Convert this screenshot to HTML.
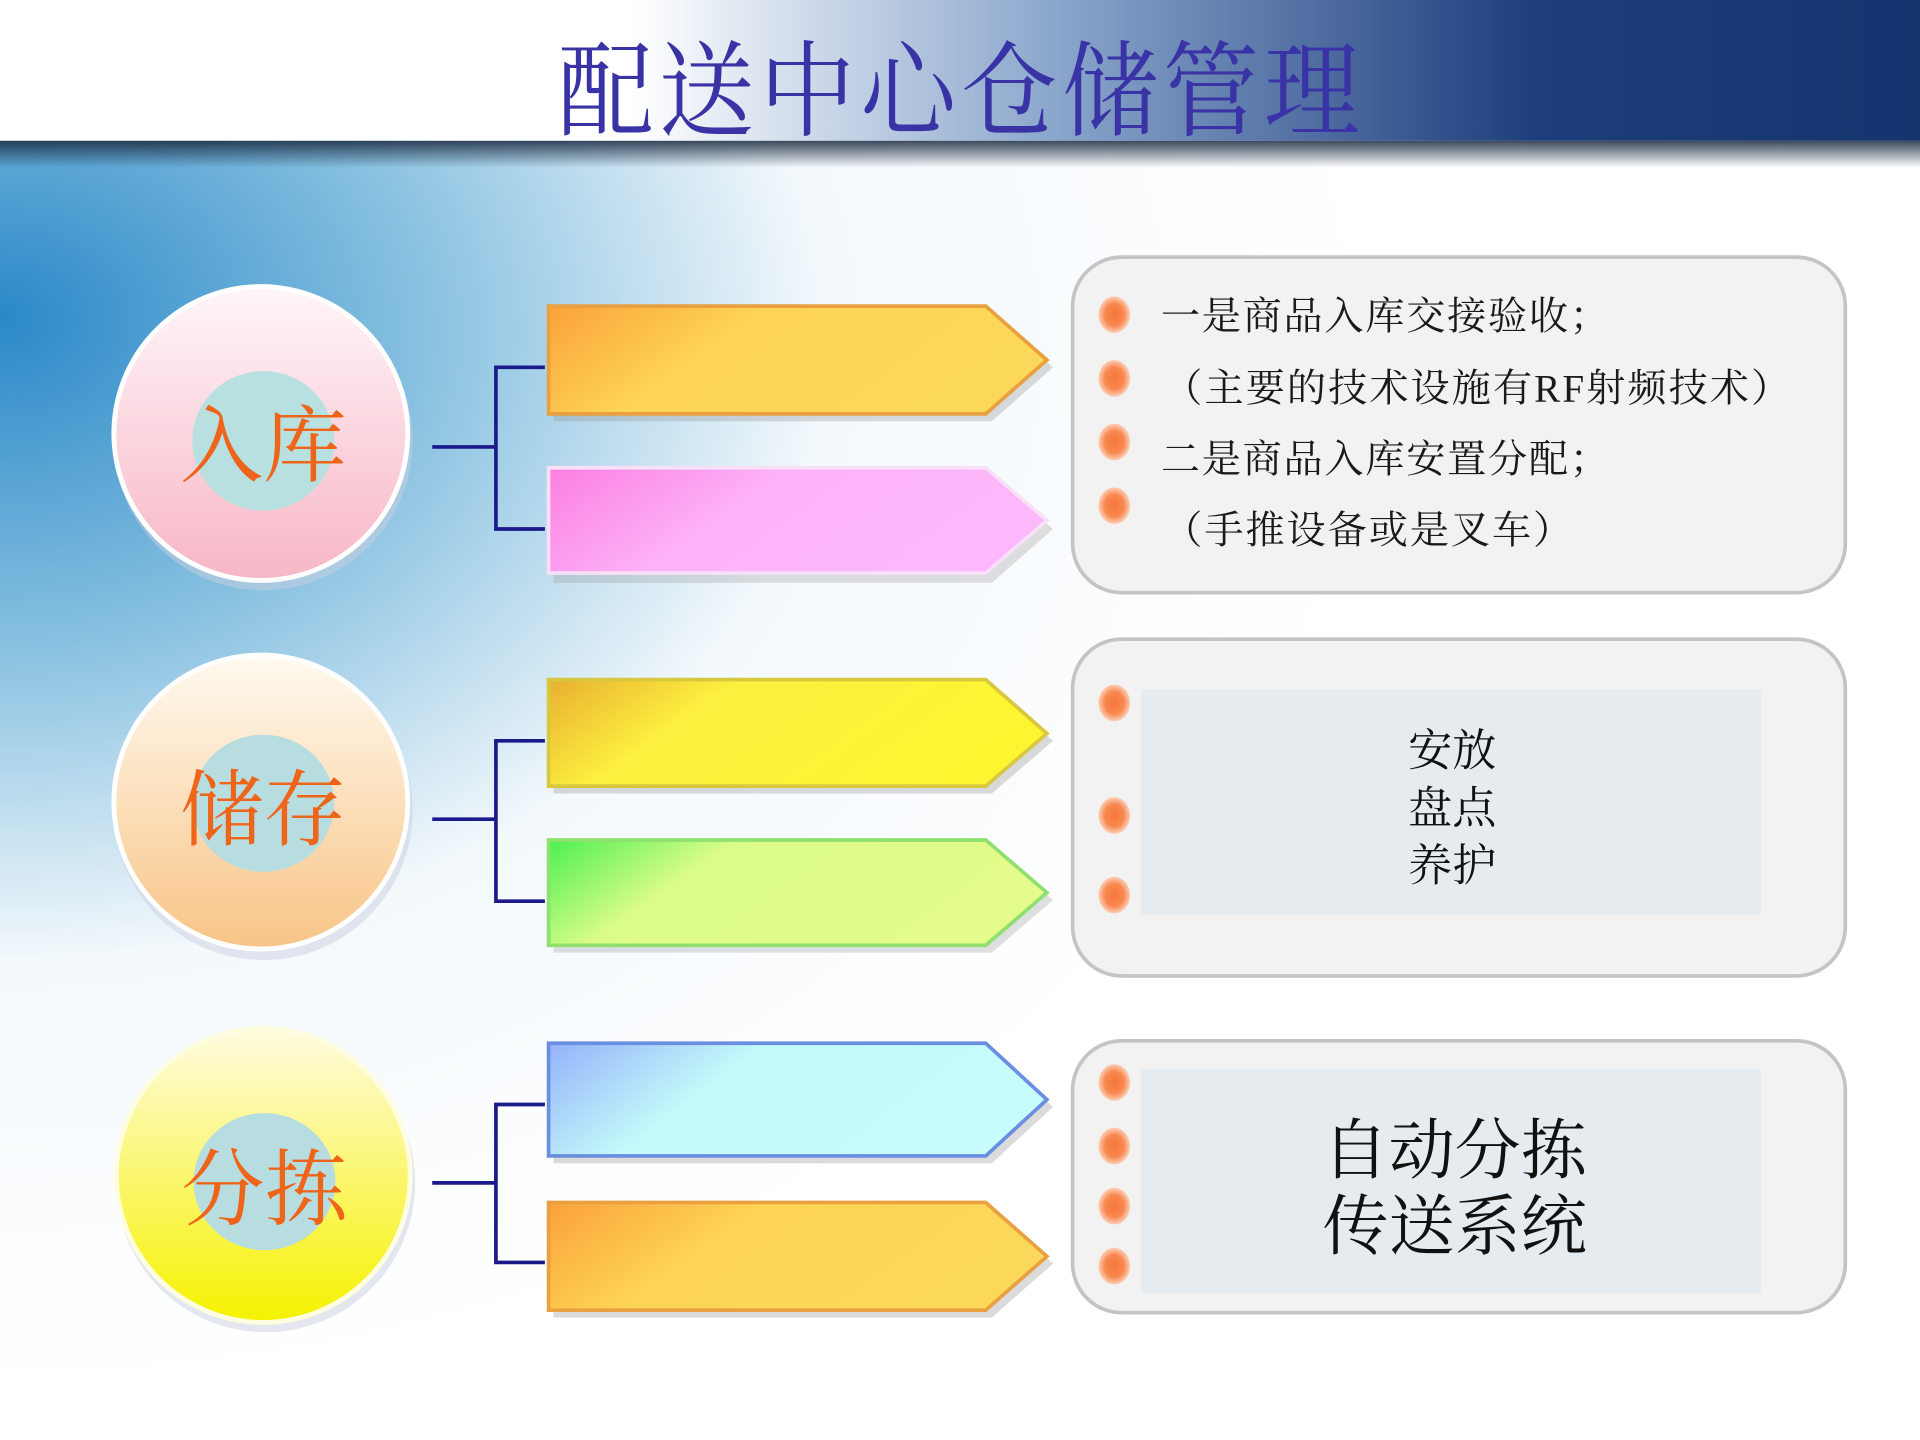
<!DOCTYPE html>
<html><head><meta charset="utf-8"><style>
html,body{margin:0;padding:0;width:1920px;height:1440px;overflow:hidden;background:#fff}
svg{display:block}
text{font-family:"Liberation Serif","Noto Serif CJK SC",serif}
</style></head><body>
<svg width="1920" height="1440" viewBox="0 0 1568 1176" xmlns="http://www.w3.org/2000/svg">
<defs>
<linearGradient id="hdr" x1="0" y1="0" x2="1" y2="0">
<stop offset="0" stop-color="#ffffff"/><stop offset="0.33" stop-color="#ffffff"/>
<stop offset="0.55" stop-color="#8aa6cc"/><stop offset="0.8" stop-color="#1d3d7c"/><stop offset="1" stop-color="#15346e"/>
</linearGradient>
<linearGradient id="shadow" x1="0" y1="0" x2="0" y2="1">
<stop offset="0" stop-color="#1a2a40"/><stop offset="1" stop-color="#1a2a40" stop-opacity="0"/>
</linearGradient>
<radialGradient id="bg" cx="0" cy="0.25" r="0.72" fx="0" fy="0.22">
<stop offset="0" stop-color="#2a88c8"/><stop offset="0.3" stop-color="#86c0e0"/><stop offset="0.6" stop-color="#f4f9fc"/><stop offset="1" stop-color="#ffffff"/>
</radialGradient>
<linearGradient id="c1" x1="0" y1="0" x2="0" y2="1"><stop offset="0" stop-color="#fff6f8"/><stop offset="1" stop-color="#f7b6c6"/></linearGradient>
<linearGradient id="c2" x1="0" y1="0" x2="0" y2="1"><stop offset="0" stop-color="#fffaf0"/><stop offset="1" stop-color="#f8c486"/></linearGradient>
<linearGradient id="c3" x1="0" y1="0" x2="0" y2="1"><stop offset="0" stop-color="#fffbe0"/><stop offset="1" stop-color="#f6f200"/></linearGradient>
<linearGradient id="a1" x1="0" y1="0" x2="1" y2="0.3"><stop offset="0" stop-color="#fba23a"/><stop offset="0.4" stop-color="#fdd455"/><stop offset="1" stop-color="#fcd85a"/></linearGradient>
<linearGradient id="a2" x1="0" y1="0" x2="1" y2="0.3"><stop offset="0" stop-color="#fb7fe0"/><stop offset="0.45" stop-color="#fdb2f8"/><stop offset="1" stop-color="#fdb8fb"/></linearGradient>
<linearGradient id="a3" x1="0" y1="0" x2="1" y2="0.3"><stop offset="0" stop-color="#e8b030"/><stop offset="0.35" stop-color="#fdf040"/><stop offset="1" stop-color="#fdf530"/></linearGradient>
<linearGradient id="a4" x1="0" y1="0" x2="1" y2="0.3"><stop offset="0" stop-color="#4cf050"/><stop offset="0.35" stop-color="#dcfc8a"/><stop offset="1" stop-color="#e4fc8c"/></linearGradient>
<linearGradient id="a5" x1="0" y1="0" x2="1" y2="0.3"><stop offset="0" stop-color="#94b2fa"/><stop offset="0.4" stop-color="#c4fafa"/><stop offset="1" stop-color="#c8fcfc"/></linearGradient>
<radialGradient id="dot"><stop offset="0" stop-color="#f5773a"/><stop offset="0.6" stop-color="#f88850"/><stop offset="1" stop-color="#fcd0b8"/></radialGradient>
</defs>
<rect width="1568" height="1176" fill="url(#bg)"/>
<rect width="1568" height="115" fill="url(#hdr)"/>
<rect y="115" width="1568" height="22" fill="url(#shadow)" opacity="0.85"/>
<text x="0" y="0" font-size="76" fill="#3a33a6" text-anchor="middle" transform="translate(785,104) scale(1.03,1.12)" style="letter-spacing:4px">配送中心仓储管理</text>

<g>
<circle cx="215" cy="360" r="122" fill="#c9cfe0" opacity="0.5"/>
<circle cx="213" cy="354" r="120" fill="url(#c1)" stroke="#fff" stroke-width="4"/>
<ellipse cx="215" cy="360" rx="58" ry="57" fill="#b8e0e0"/>
<text x="215" y="388" font-size="68" fill="#ee6418" text-anchor="middle">入库</text>

<circle cx="215" cy="662" r="122" fill="#c9cfe0" opacity="0.5"/>
<circle cx="213" cy="655" r="120" fill="url(#c2)" stroke="#fff" stroke-width="4"/>
<ellipse cx="215" cy="656" rx="58" ry="56" fill="#b8dde0"/>
<text x="215" y="685" font-size="68" fill="#ee6418" text-anchor="middle">储存</text>

<circle cx="217" cy="966" r="122" fill="#c9cfe0" opacity="0.5"/>
<circle cx="215" cy="960" r="120" fill="url(#c3)" stroke="#fffde0" stroke-width="4"/>
<ellipse cx="216" cy="965" rx="58" ry="56" fill="#b8dde0"/>
<text x="216" y="995" font-size="68" fill="#ee6418" text-anchor="middle">分拣</text>
</g>

<g fill="none" stroke="#1a1a8a" stroke-width="3">
<path d="M353 365H405M445 300H405V432H445"/>
<path d="M353 669H405M445 605H405V736H445"/>
<path d="M353 966H405M445 902H405V1031H445"/>
</g>

<g stroke-width="3">
<path d="M452 256H810L860 300L810 344H452Z" fill="#999" opacity="0.35" stroke="none"/>
<path d="M448 250H805L855 294L805 338H448Z" fill="url(#a1)" stroke="#e8a040"/>
<path d="M452 388H810L860 432L810 476H452Z" fill="#999" opacity="0.3" stroke="none"/>
<path d="M448 382H805L855 425L805 468H448Z" fill="url(#a2)" stroke="#f8e0f8"/>
<path d="M452 561H810L860 605L810 648H452Z" fill="#999" opacity="0.35" stroke="none"/>
<path d="M448 555H805L855 599L805 642H448Z" fill="url(#a3)" stroke="#d8c840"/>
<path d="M452 692H810L860 735L810 778H452Z" fill="#999" opacity="0.3" stroke="none"/>
<path d="M448 686H805L855 729L805 772H448Z" fill="url(#a4)" stroke="#90e070"/>
<path d="M452 858H810L860 904L810 950H452Z" fill="#999" opacity="0.35" stroke="none"/>
<path d="M448 852H805L855 898L805 944H448Z" fill="url(#a5)" stroke="#6a8ee0"/>
<path d="M452 988H810L860 1032L810 1076H452Z" fill="#999" opacity="0.35" stroke="none"/>
<path d="M448 982H805L855 1026L805 1070H448Z" fill="url(#a1)" stroke="#e8a040"/>
</g>

<g fill="#f2f2f2" stroke="#c4c4c4" stroke-width="3">
<rect x="876" y="210" width="631" height="274" rx="40"/>
<rect x="876" y="522" width="631" height="275" rx="40"/>
<rect x="876" y="850" width="631" height="222" rx="40"/>
</g>
<rect x="932" y="563" width="506" height="184" fill="#e5ebee"/>
<rect x="932" y="873" width="506" height="183" fill="#e5ebee"/>

<g fill="url(#dot)">
<ellipse cx="910" cy="257" rx="13" ry="15"/>
<ellipse cx="910" cy="309" rx="13" ry="15"/>
<ellipse cx="910" cy="361" rx="13" ry="15"/>
<ellipse cx="910" cy="413" rx="13" ry="15"/>
<ellipse cx="910" cy="574" rx="13" ry="15"/>
<ellipse cx="910" cy="666" rx="13" ry="15"/>
<ellipse cx="910" cy="731" rx="13" ry="15"/>
<ellipse cx="910" cy="884" rx="13" ry="15"/>
<ellipse cx="910" cy="936" rx="13" ry="15"/>
<ellipse cx="910" cy="985" rx="13" ry="15"/>
<ellipse cx="910" cy="1034" rx="13" ry="15"/>
</g>

<g font-size="32" fill="#1a1a1a">
<text x="948" y="269" textLength="366">一是商品入库交接验收；</text>
<text x="950" y="328" textLength="512">（主要的技术设施有RF射频技术）</text>
<text x="948" y="386" textLength="366">二是商品入库安置分配；</text>
<text x="950" y="444" textLength="334">（手推设备或是叉车）</text>
</g>
<g font-size="36" fill="#111" text-anchor="middle">
<text x="1186" y="625">安放</text>
<text x="1186" y="672">盘点</text>
<text x="1186" y="719">养护</text>
</g>
<g font-size="54" fill="#111" text-anchor="middle">
<text x="1188" y="958">自动分拣</text>
<text x="1188" y="1020">传送系统</text>
</g>
</svg>
</body></html>
